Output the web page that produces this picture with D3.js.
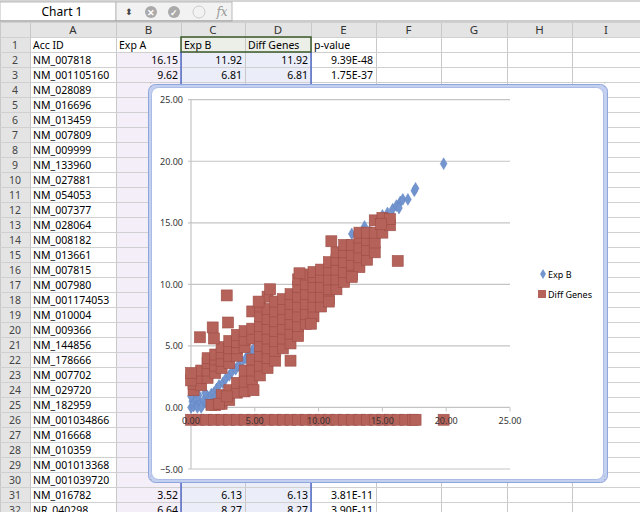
<!DOCTYPE html>
<html><head><meta charset="utf-8">
<script src="https://cdn.jsdelivr.net/npm/d3@7"></script>
<style>body{margin:0;background:#fff}svg{display:block}</style></head>
<body><svg id="s" width="640" height="512"></svg>
<script>
// ---- spreadsheet data ----
const colLetters = ["A","B","C","D","E","F","G","H","I"];
const header = ["Acc ID","Exp A","Exp B","Diff Genes","p-value"];
const accIds = ["NM_007818","NM_001105160","NM_028089","NM_016696","NM_013459","NM_007809","NM_009999","NM_133960","NM_027881","NM_054053","NM_007377","NM_028064","NM_008182","NM_013661","NM_007815","NM_007980","NM_001174053","NM_010004","NM_009366","NM_144856","NM_178666","NM_007702","NM_029720","NM_182959","NM_001034866","NM_016668","NM_010359","NM_001013368","NM_001039720","NM_016782","NR_040298"];
const visibleRows = {2:["16.15","11.92","11.92","9.39E-48"],3:["9.62","6.81","6.81","1.75E-37"],31:["3.52","6.13","6.13","3.81E-11"],32:["6.64","8.27","8.27","3.90E-11"]};
// ---- chart data ----
const xTicks = [0,5,10,15,20,25];
const yTicks = [-5,0,5,10,15,20,25];
const legendNames = ["Exp B","Diff Genes"];
const expB = [[0,0],[0.2,0.1],[0.4,0.3],[0.1,0.5],[0.5,0],[0.7,0.4],[0.3,0.8],[0.9,0.2],[1.0,0.6],[0.6,1.0],[1.2,0.4],[1.3,0.9],[0.2,1.2],[1.5,0.7],[1.6,1.1],[1.1,1.2],[1.8,1.2],[2.0,1.5],[2.2,1.8],[2.5,2.0],[2.7,2.3],[3.0,2.6],[3.2,2.9],[3.5,3.1],[3.7,3.4],[4.0,3.7],[4.3,4.0],[4.5,4.3],[4.8,4.6],[5.0,4.9],[0,0.9],[0.8,0],[1.9,0.8],[12.6,14.1],[13.2,14.0],[13.6,14.7],[14.0,14.3],[14.4,14.0],[14.8,15.3],[15.0,15.6],[15.4,15.8],[15.8,16.1],[16.1,16.4],[16.4,16.7],[16.6,16.9],[16.3,16.2],[17.0,16.9],[17.5,17.6],[17.6,17.8],[19.8,19.8]];
const diffX = [0.2,0.8,1.3,1.9,2.4,3.0,3.6,4.2,4.8,5.4,6.0,6.6,7.2,7.8,8.4,9.0,9.6,10.2,10.8,11.4,12.0,12.6,13.2,13.8,14.4,15.0,15.6];
const diffYs = [[1.4,1.9,2.5],[1.8,2.4,3.0],[2.4,3.0,3.6,4.0],[0.2,2.8,3.4,3.9,4.3],[0.3,1.0,3.2,3.8,4.4,4.9],[0.6,1.4,3.6,4.2,4.8,5.4],[1.2,2.0,4.2,4.8,5.3,5.9],[1.3,2.1,3.0,4.9,5.5,6.2],[2.2,3.0,3.9,5.6,6.4,7.8],[2.6,3.4,4.2,5.0,5.8,6.6,7.4,8.2],[3.2,4.0,4.8,5.6,6.4,7.2,8.0,9.0],[3.8,4.6,5.4,6.2,7.0,7.8,8.6],[4.8,5.6,6.4,7.2,8.0,8.8],[5.2,6.0,6.8,7.6,8.4,9.2],[5.8,6.6,7.4,8.2,9.0,9.8,10.4],[6.8,7.6,8.4,9.2,10.0,10.8],[7.4,8.2,9.0,9.8,10.6,11.0],[8.2,9.0,9.8,10.6,11.2],[8.8,9.6,10.4,11.2,11.8],[9.6,10.4,11.2,12.0,12.6],[10.2,11.0,11.8,12.6,13.2],[10.8,11.6,12.4,13.2],[11.4,12.2,13.0,13.8,14.2],[12.0,12.8,13.6,14.2],[12.6,13.4,14.2,15.2],[14.2,15.0,15.4],[14.8,15.3]];
const diffOutliers = [[2.8,9.1],[1.7,6.5],[0.7,5.7],[1.8,5.6],[2.9,6.9],[7.8,3.8],[9.4,6.8],[16.2,11.9],[12.6,10.6],[10.8,8.6],[4.9,1.4],[6.2,9.6],[8.5,10.9],[11.0,13.5],[1.6,0.2],[2.2,0.3],[2.8,0.9],[14.9,14.9],[5.3,8.6],[0,2.2],[0,2.8]];
const diffBottomX = [0,0.6,1.2,1.8,2.4,3.0,3.6,4.2,4.8,5.4,6.0,6.6,7.2,7.8,8.4,9.0,9.6,10.2,10.8,11.4,12.0,12.6,13.2,13.8,14.4,15.0,15.6,16.2,16.8,17.4,17.6,19.8];
const diffBottomY = -1;

const svg = d3.select("#s");
const font = "'Noto Sans','DejaVu Sans',sans-serif";
svg.append("rect").attr("x",0).attr("y",0).attr("width",640).attr("height",22).attr("fill","#fff");
svg.append("line").attr("x1",0).attr("x2",640).attr("y1",1).attr("y2",1).attr("stroke","#aaa");
svg.append("rect").attr("x",0).attr("y",2).attr("width",116).attr("height",19).attr("fill","#fff").attr("stroke","#bbb");
svg.append("text").attr("x",62).attr("y",16).attr("text-anchor","middle").attr("font-family",font).attr("font-size",12).text("Chart 1");
svg.append("rect").attr("x",116).attr("y",2).attr("width",116).attr("height",19).attr("fill","#f2f2f2").attr("stroke","#bbb");
svg.append("text").attr("x",125).attr("y",15).attr("font-size",9).attr("font-family",font).attr("fill","#444").text("⬍");
[[151,"#aaa"],[174,"#aaa"]].forEach(([cx,c])=>svg.append("circle").attr("cx",cx).attr("cy",12).attr("r",6).attr("fill",c));
svg.append("text").attr("x",151).attr("y",15.5).attr("text-anchor","middle").attr("font-size",9).attr("fill","#fff").attr("font-weight","bold").text("✕");
svg.append("text").attr("x",174).attr("y",15.5).attr("text-anchor","middle").attr("font-size",9).attr("fill","#fff").attr("font-weight","bold").text("✓");
svg.append("circle").attr("cx",199).attr("cy",12).attr("r",6).attr("fill","none").attr("stroke","#ccc");
svg.append("text").attr("x",222).attr("y",16).attr("text-anchor","middle").attr("font-size",12).attr("font-style","italic").attr("font-family","DejaVu Serif").attr("fill","#999").text("fx");
svg.append("line").attr("x1",0).attr("x2",640).attr("y1",21).attr("y2",21).attr("stroke","#999");

const colEdges = [0,30,116,181,245,311,376,441,507,572,640];
const rowTop = r => 37 + (r-1)*15;
const g = svg.append("g");
g.append("rect").attr("x",0).attr("y",22).attr("width",640).attr("height",15).attr("fill","#e4e4e4");
g.append("rect").attr("x",0).attr("y",22).attr("width",30).attr("height",490).attr("fill","#e4e4e4");
g.append("rect").attr("x",116).attr("y",rowTop(2)).attr("width",65).attr("height",512).attr("fill","#f4eef9");
g.append("rect").attr("x",181).attr("y",rowTop(2)).attr("width",130).attr("height",512).attr("fill","#ebeef9");
g.append("rect").attr("x",181).attr("y",rowTop(1)).attr("width",130).attr("height",15).attr("fill","#eceee8");
for(let i=0;i<colEdges.length;i++) g.append("line").attr("x1",colEdges[i]+0.5).attr("x2",colEdges[i]+0.5).attr("y1",22).attr("y2",512).attr("stroke","#c8c8c8");
for(let r=0;r<=33;r++) g.append("line").attr("x1",0).attr("x2",640).attr("y1",rowTop(r)+0.5).attr("y2",rowTop(r)+0.5).attr("stroke","#d0d0d0");
colLetters.forEach((c,i)=>g.append("text").attr("x",(colEdges[i+1]+colEdges[i+2])/2).attr("y",34).attr("text-anchor","middle").attr("font-family",font).attr("font-size",11.5).attr("fill","#333").text(c));
for(let r=1;r<=32;r++){
  g.append("text").attr("x",15).attr("y",rowTop(r)+11.5).attr("text-anchor","middle").attr("font-family",font).attr("font-size",10.5).attr("fill","#444").text(r);
  const label = r===1?header[0]:accIds[r-2];
  g.append("text").attr("x",33).attr("y",rowTop(r)+11.5).attr("font-family",font).attr("font-size",10.5).text(label);
}
header.slice(1).forEach((h,i)=>g.append("text").attr("x",colEdges[i+2]+3).attr("y",rowTop(1)+11.5).attr("font-family",font).attr("font-size",10.5).text(h));
Object.entries(visibleRows).forEach(([r,vals])=>vals.forEach((v,i)=>g.append("text").attr("x",colEdges[i+3]-3).attr("y",rowTop(+r)+11.5).attr("text-anchor","end").attr("font-family",font).attr("font-size",10.5).text(v)));
g.append("rect").attr("x",181).attr("y",rowTop(1)).attr("width",130).attr("height",15).attr("fill","none").attr("stroke","#3a5a2a").attr("stroke-width",1.5);
g.append("line").attr("x1",181).attr("x2",181).attr("y1",rowTop(2)).attr("y2",512).attr("stroke","#3050c0").attr("stroke-width",1.2);
g.append("line").attr("x1",311).attr("x2",311).attr("y1",rowTop(2)).attr("y2",512).attr("stroke","#3050c0").attr("stroke-width",1.2);

svg.append("rect").attr("x",148.5).attr("y",84.5).attr("width",459).attr("height",398).attr("rx",7).attr("fill","#c3d0ef").attr("stroke","#8fa6dc");
svg.append("rect").attr("x",151.5).attr("y",87.5).attr("width",452).attr("height",392).attr("rx",7).attr("fill","#fff").attr("stroke","#a9bbe6");

const x = d3.scaleLinear().domain([0,25]).range([191,510]);
const y = d3.scaleLinear().domain([-5,25]).range([469,99.7]);
const p = svg.append("g").attr("font-family",font);
yTicks.forEach(t=>p.append("line").attr("x1",188).attr("x2",510).attr("y1",y(t)).attr("y2",y(t)).attr("stroke","#c4c4c4").attr("stroke-width",1.2));
p.append("line").attr("x1",x(0)).attr("x2",x(0)).attr("y1",y(25)).attr("y2",y(-5)).attr("stroke","#c4c4c4").attr("stroke-width",1.2);
xTicks.forEach(t=>p.append("line").attr("x1",x(t)).attr("x2",x(t)).attr("y1",y(0)).attr("y2",y(0)+4).attr("stroke","#c4c4c4"));
yTicks.forEach(t=>p.append("text").attr("x",183).attr("y",y(t)+3.5).attr("text-anchor","end").attr("font-size",9).attr("fill","#333").text(d3.format(".2f")(t)));

const blue="#7395cf", red="#b5625a", redS="#9e4d45";
const dia = d3.symbol().type(d3.symbolDiamond).size(40);
p.selectAll(".b").data(expB).join("path").attr("d",dia).attr("transform",d=>`translate(${x(d[0])},${y(d[1])})`).attr("fill",blue).attr("stroke","#5f82c2").attr("stroke-width",0.5);
const diffAll = [];
diffX.forEach((xv,i)=>diffYs[i].forEach(yv=>diffAll.push([xv,yv])));
diffOutliers.forEach(d=>diffAll.push(d));
diffBottomX.forEach(xv=>diffAll.push([xv,diffBottomY]));
const S=11;
p.selectAll(".r").data(diffAll).join("rect").attr("x",d=>x(d[0])-S/2).attr("y",d=>y(d[1])-S/2).attr("width",S).attr("height",S).attr("fill",red).attr("stroke",redS).attr("stroke-width",0.6);
xTicks.forEach(t=>p.append("text").attr("x",x(t)).attr("y",y(0)+17).attr("text-anchor","middle").attr("font-size",9).attr("fill","#333").text(d3.format(".2f")(t)));

p.append("path").attr("d",d3.symbol().type(d3.symbolDiamond).size(30)).attr("transform","translate(543,274)").attr("fill",blue);
p.append("text").attr("x",548).attr("y",277.5).attr("font-size",9).text(legendNames[0]);
p.append("rect").attr("x",538).attr("y",290).attr("width",8).attr("height",8).attr("fill",red);
p.append("text").attr("x",548).attr("y",297.5).attr("font-size",9).text(legendNames[1]);
[[150,87],[604,87],[150,480],[604,480]].forEach(([hx,hy])=>svg.append("text").attr("x",hx).attr("y",hy).attr("font-size",6).attr("fill","#567").text("⁚"));
</script></body></html>
